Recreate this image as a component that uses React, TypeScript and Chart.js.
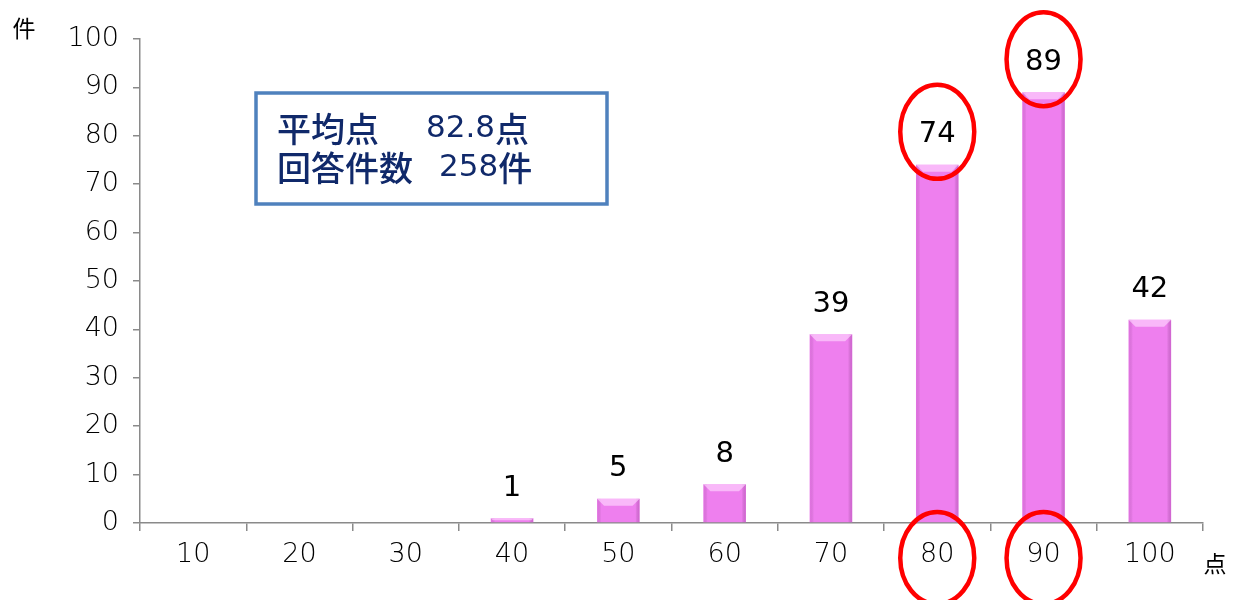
import React, { useEffect, useRef } from "react";
import { Chart, registerables } from "chart.js";

Chart.register(...registerables);

const categories = ["10", "20", "30", "40", "50", "60", "70", "80", "90", "100"];
const counts = [0, 0, 0, 1, 5, 8, 39, 74, 89, 42];
const highlighted = [7, 8];
const yTicks = [0, 10, 20, 30, 40, 50, 60, 70, 80, 90, 100];
const infoLines = [
  ["平均点", "82.8点"],
  ["回答件数", "258件"],
];
const yUnit = "件";
const xUnit = "点";

const FONT = "'DejaVu Sans', 'Noto Sans CJK JP', sans-serif";
const CJK = "'Noto Sans CJK JP', sans-serif";

function drawMixed(ctx: any, text: string, x: number, y: number) {
  let cx = x;
  for (const ch of text) {
    const isAscii = ch.charCodeAt(0) < 256;
    ctx.font = isAscii ? `31px 'DejaVu Sans', sans-serif` : `500 34px ${CJK}`;
    ctx.fillText(ch, cx, y);
    cx += ctx.measureText(ch).width;
  }
}

const decorPlugin = {
  id: "decor",
  afterDatasetsDraw(chart: any) {
    const ctx = chart.ctx;
    const meta = chart.getDatasetMeta(0);
    ctx.save();
    meta.data.forEach((bar: any, i: number) => {
      const v = counts[i];
      if (!v) return;
      const w = bar.width;
      const left = bar.x - w / 2;
      const top = bar.y;
      const bottom = bar.base;
      const h = bottom - top;
      const bev = Math.min(7, h / 2);
      const g = ctx.createLinearGradient(left, 0, left + w, 0);
      g.addColorStop(0, "rgba(200,80,200,0.25)");
      g.addColorStop(0.1, "rgba(0,0,0,0)");
      g.addColorStop(0.9, "rgba(0,0,0,0)");
      g.addColorStop(1, "rgba(150,40,150,0.3)");
      ctx.fillStyle = g;
      ctx.fillRect(left, top, w, h);
      ctx.fillStyle = "rgba(255,215,255,0.65)";
      ctx.beginPath();
      ctx.moveTo(left, top);
      ctx.lineTo(left + w, top);
      ctx.lineTo(left + w - bev, top + bev);
      ctx.lineTo(left + bev, top + bev);
      ctx.closePath();
      ctx.fill();
      ctx.fillStyle = "#000";
      ctx.font = `29px 'DejaVu Sans', sans-serif`;
      ctx.textAlign = "center";
      ctx.textBaseline = "middle";
      ctx.fillText(String(v), bar.x, top - 30);
    });
    ctx.restore();
  },
  afterDraw(chart: any) {
    const ctx = chart.ctx;
    const area = chart.chartArea;
    const xs = chart.scales.x;
    const meta = chart.getDatasetMeta(0);
    ctx.save();
    ctx.fillStyle = "#000";
    ctx.font = `23px ${CJK}`;
    ctx.textAlign = "center";
    ctx.textBaseline = "middle";
    ctx.fillText(yUnit, 24, area.top - 11);
    ctx.fillText(xUnit, area.right + 12, area.bottom + 40);

    const bx = area.left + 116;
    const by = area.top + 54;
    const bw = 351;
    const bh = 111;
    ctx.strokeStyle = "#4F81BD";
    ctx.lineWidth = 3.5;
    ctx.fillStyle = "#fff";
    ctx.fillRect(bx, by, bw, bh);
    ctx.strokeRect(bx, by, bw, bh);
    ctx.fillStyle = "#10296A";
    ctx.textAlign = "left";
    ctx.textBaseline = "middle";
    drawMixed(ctx, infoLines[0][0], bx + 21, by + 36);
    drawMixed(ctx, infoLines[0][1], bx + 170, by + 36);
    drawMixed(ctx, infoLines[1][0], bx + 21, by + 75);
    drawMixed(ctx, infoLines[1][1], bx + 183, by + 75);

    ctx.strokeStyle = "#FF0000";
    ctx.lineWidth = 4.5;
    highlighted.forEach((i) => {
      const bar: any = meta.data[i];
      const cx = xs.getPixelForValue(i);
      ctx.beginPath();
      ctx.ellipse(cx, bar.y - 33, 37, 47, 0, 0, Math.PI * 2);
      ctx.stroke();
      ctx.beginPath();
      ctx.ellipse(cx, area.bottom + 35, 37, 46, 0, 0, Math.PI * 2);
      ctx.stroke();
    });
    ctx.restore();
  },
};

export default function App() {
  const ref = useRef<HTMLCanvasElement | null>(null);
  useEffect(() => {
    document.body.style.margin = "0";
    if (!ref.current) return;
    const chart = new Chart(ref.current, {
      type: "bar",
      data: {
        labels: categories,
        datasets: [
          {
            data: counts,
            backgroundColor: "#EE7FEE",
            borderWidth: 0,
            barPercentage: 0.8,
            categoryPercentage: 0.5,
          },
        ],
      },
      plugins: [decorPlugin],
      options: {
        responsive: false,
        animation: false,
        devicePixelRatio: 1,
        layout: { padding: { top: 39, right: 40, left: 0, bottom: 0 } },
        plugins: { legend: { display: false }, tooltip: { enabled: false } },
        scales: {
          x: {
            offset: true,
            grid: {
              offset: true,
              drawOnChartArea: false,
              drawTicks: true,
              tickLength: 8,
              color: "#8a8a8a",
              lineWidth: 1.5,
            },
            border: { display: true, color: "#8a8a8a", width: 1.5 },
            ticks: {
              color: "#000",
              font: { size: 27, family: "'DejaVu Sans', sans-serif", weight: "300" },
              padding: 8,
              maxRotation: 0,
            },
            afterFit(scale: any) {
              scale.height = 77;
            },
          },
          y: {
            min: 0,
            max: 100,
            afterBuildTicks(scale: any) {
              scale.ticks = yTicks.map((v) => ({ value: v }));
            },
            grid: {
              drawOnChartArea: false,
              drawTicks: true,
              tickLength: 7,
              color: "#8a8a8a",
              lineWidth: 1.5,
            },
            border: { display: true, color: "#8a8a8a", width: 1.5 },
            ticks: {
              color: "#000",
              font: { size: 27, family: "'DejaVu Sans', sans-serif", weight: "300" },
              padding: 14,
            },
            afterFit(scale: any) {
              scale.width = 140;
            },
          },
        },
      },
    } as any);
    return () => chart.destroy();
  }, []);
  return (
    <div style={{ position: "absolute", left: 0, top: 0, width: 1243, height: 600 }}>
      <canvas ref={ref} width={1243} height={600} style={{ width: 1243, height: 600 }} />
    </div>
  );
}
